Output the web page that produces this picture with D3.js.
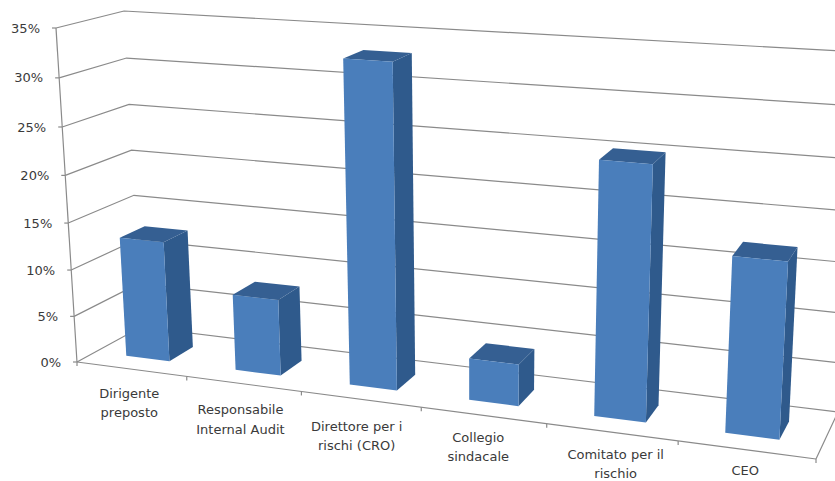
<!DOCTYPE html>
<html>
<head>
<meta charset="utf-8">
<script src="https://cdn.jsdelivr.net/npm/d3@7"></script>
<style>
html,body{margin:0;padding:0;background:#fff;overflow:hidden}
svg{display:block}
text{font-family:"DejaVu Sans",sans-serif;font-size:13px;fill:#3a3a3a}
</style>
</head>
<body>
<svg id="chart" width="835" height="481"></svg>
<script>
const categories = [["Dirigente","preposto"],["Responsabile","Internal Audit"],["Direttore per i","rischi (CRO)"],["Collegio","sindacale"],["Comitato per il","rischio"],["CEO"]];
const values = [12.9, 8.1, 33.2, 4.3, 25.3, 17.3];
const valueTicks = [0,5,10,15,20,25,30,35];

// Corners of the front and back planes of the 3D box: [left-bottom, right-bottom, right-top, left-top]
const frontPlane = [[77,362],[816,459],[837,79],[56,28]];
const backPlane  = [[141,327],[838,412],[858,52],[124,11]];
const depthBias = 1.25;
const barSpan = 0.4, barShift = -0.012, depthStart = 0.34, depthEnd = 0.73;
// Hand placement of the wrapped category labels relative to their slot
const labelNudge = [[-2,24],[-3,26],[-4,27],[-5,22],[4,22],[-1,21]];
const lineGap = 19.5;

function quadMap(q){
  const [[x0,y0],[x1,y1],[x2,y2],[x3,y3]] = q;
  const dx1=x1-x2, dx2=x3-x2, sx=x0-x1+x2-x3, dy1=y1-y2, dy2=y3-y2, sy=y0-y1+y2-y3;
  const den=dx1*dy2-dx2*dy1;
  const g=(sx*dy2-dx2*sy)/den, h=(dx1*sy-sx*dy1)/den;
  const a=x1-x0+g*x1, b=x3-x0+h*x3, d=y1-y0+g*y1, e=y3-y0+h*y3;
  return (u,v)=>{const w=g*u+h*v+1; return [(a*u+b*v+x0)/w,(d*u+e*v+y0)/w];};
}
const front = quadMap(frontPlane), back = quadMap(backPlane);

const x = d3.scaleLinear().domain([0,categories.length]).range([0,1]);
const y = d3.scaleLinear().domain([0,35]).range([0,1]);
const depth = d => d/(d+depthBias*(1-d));
// Projects slot position, depth (0 front, 1 back) and value onto the page
function project(s,d,val){
  const f=front(x(s),y(val)), b=back(x(s),y(val)), t=depth(d);
  return [f[0]+(b[0]-f[0])*t, f[1]+(b[1]-f[1])*t];
}

const svg = d3.select("#chart");
const line = d3.line();
const gridColor = "#8a8a8a";
const grid = svg.append("g").attr("fill","none").attr("stroke",gridColor).attr("stroke-width",1.2);
const n = categories.length;

valueTicks.forEach(v=>{
  grid.append("path").attr("d",line([project(0,0,v),project(0,1,v),project(n,1,v)]));
  const p=project(0,0,v);
  grid.append("path").attr("d",line([[p[0]-4,p[1]],p]));
  svg.append("text").attr("x",p[0]-16).attr("y",p[1]).attr("dy","0.35em").attr("text-anchor","end").text(v+"%");
});
grid.append("path").attr("d",line([project(0,0,0),project(0,0,35)]));
grid.append("path").attr("d",line([project(0,0,0),project(n,0,0)]));
grid.append("path").attr("d",line([project(n,0,0),project(n,1,0)]));
d3.range(n+1).forEach(i=>{
  const p=project(i,0,0);
  grid.append("path").attr("d",line([p,[p[0],p[1]+4]]));
});

values.forEach((val,i)=>{
  const s0=i+0.5+barShift-barSpan/2, s1=i+0.5+barShift+barSpan/2;
  const g=svg.append("g");
  g.append("path").attr("fill","#2f5a8c").attr("d",line([project(s1,depthStart,0),project(s1,depthEnd,0),project(s1,depthEnd,val),project(s1,depthStart,val)])+"Z");
  g.append("path").attr("fill","#355f92").attr("d",line([project(s0,depthStart,val),project(s1,depthStart,val),project(s1,depthEnd,val),project(s0,depthEnd,val)])+"Z");
  g.append("path").attr("fill","#4a7ebb").attr("d",line([project(s0,depthStart,0),project(s1,depthStart,0),project(s1,depthStart,val),project(s0,depthStart,val)])+"Z");
});

categories.forEach((lines,i)=>{
  const p=project(i+0.5,0,0);
  lines.forEach((t,j)=>{
    svg.append("text").attr("x",p[0]+labelNudge[i][0]).attr("y",p[1]+labelNudge[i][1]+j*lineGap).attr("dy","0.35em").attr("text-anchor","middle").text(t);
  });
});
</script>
</body>
</html>
